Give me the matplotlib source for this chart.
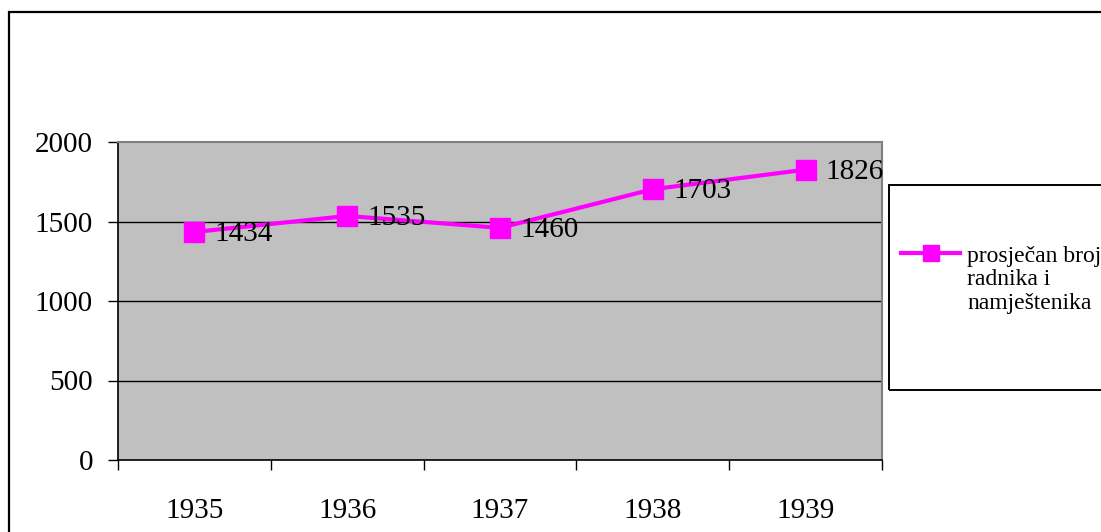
import matplotlib.pyplot as plt
from matplotlib.lines import Line2D
from matplotlib.patches import Rectangle
import numpy as np

# Data
years = ['1935', '1936', '1937', '1938', '1939']
workers = [1434, 1535, 1460, 1703, 1826]
legend_lines = ['prosječan broj', 'radnika i', 'namještenika']
y_ticks = [0, 500, 1000, 1500, 2000]

magenta = '#FF00FF'
plt.rcParams['font.family'] = ['Liberation Serif', 'DejaVu Serif']

fig = plt.figure(figsize=(11.01, 5.32), dpi=100)
ax = fig.add_axes([118 / 1101, 72 / 532, 764 / 1101, 318 / 532])
ax.set_facecolor('#C0C0C0')

x = np.arange(len(years)) + 0.5
line, = ax.plot(x, workers, color=magenta, linewidth=3, marker='s',
                markersize=14, markerfacecolor=magenta, markeredgecolor=magenta,
                zorder=3)

for xi, v in zip(x, workers):
    ax.annotate(str(v), (xi, v), xytext=(14.5, -1.5), textcoords='offset points',
                ha='left', va='center', fontsize=21, color='black', zorder=4)

ax.set_xlim(0, len(years))
ax.set_ylim(0, 2000)
ax.set_yticks(y_ticks)
ax.set_yticklabels([str(t) for t in y_ticks], fontsize=21)
ax.tick_params(axis='y', direction='out', length=7, width=1, pad=11, color='black')

ax.set_xticks(x)
ax.set_xticklabels(years, fontsize=21)
ax.tick_params(axis='x', which='major', length=0, pad=27)
ax.set_xticks(np.arange(len(years) + 1), minor=True)
ax.tick_params(axis='x', which='minor', direction='out', length=7, width=1, color='black')

for yv in y_ticks[1:-1]:
    ax.axhline(yv, color='black', linewidth=1, zorder=1)

ax.spines['left'].set_color('black')
ax.spines['bottom'].set_color('black')
ax.spines['left'].set_linewidth(1.2)
ax.spines['bottom'].set_linewidth(1.2)
ax.spines['top'].set_color('#808080')
ax.spines['right'].set_color('#808080')
ax.spines['top'].set_linewidth(1.5)
ax.spines['right'].set_linewidth(1.5)

# outer chart frame
fig.patches.append(Rectangle((9 / 1101, -0.1), 1.2, (532 - 12) / 532 + 0.1,
                             transform=fig.transFigure, fill=False,
                             edgecolor='black', linewidth=1.6))
# legend frame
fig.patches.append(Rectangle((889 / 1101, (532 - 390) / 532), 0.3, 205 / 532,
                             transform=fig.transFigure, fill=False,
                             edgecolor='black', linewidth=1.4))

blank = Line2D([], [], linestyle='none')
handle = Line2D([], [], color=magenta, linewidth=3, marker='s', markersize=12)
fig.legend([handle, blank, blank], legend_lines, loc='upper left',
           bbox_to_anchor=(901 / 1101, (532 - 245) / 532), frameon=False,
           fontsize=17, labelspacing=0.1, handlelength=2.5, handletextpad=0.3,
           borderpad=0, borderaxespad=0)

plt.savefig('out.png', dpi=100)
